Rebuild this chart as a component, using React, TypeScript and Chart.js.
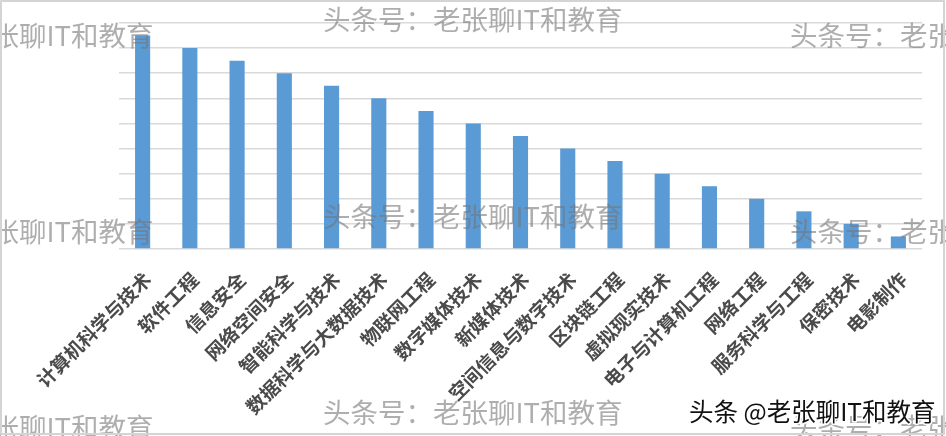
import React, { useEffect, useRef } from "react";
import { Chart, registerables } from "chart.js";

Chart.register(...registerables);

const categories = [
  "计算机科学与技术",
  "软件工程",
  "信息安全",
  "网络空间安全",
  "智能科学与技术",
  "数据科学与大数据技术",
  "物联网工程",
  "数字媒体技术",
  "新媒体技术",
  "空间信息与数字技术",
  "区块链工程",
  "虚拟现实技术",
  "电子与计算机工程",
  "网络工程",
  "服务科学与工程",
  "保密技术",
  "电影制作",
];
const values = [8.5, 8, 7.5, 7, 6.5, 6, 5.5, 5, 4.5, 4, 3.5, 3, 2.5, 2, 1.5, 1, 0.5];
const yMin = 0;
const yMax = 9;
const yStep = 1;
const watermarkText = "头条号：老张聊IT和教育";
const signatureText = "头条 @老张聊IT和教育";

const W = 946;
const H = 436;

const overlayPlugin = {
  id: "overlay",
  afterDraw(chart: any) {
    const ctx = chart.ctx as CanvasRenderingContext2D;
    ctx.save();
    ctx.font = '27.5px "Noto Sans CJK SC"';
    ctx.fillStyle = "rgba(115,115,115,0.58)";
    ctx.textBaseline = "middle";
    ctx.textAlign = "left";
    const cols = [
      { x: -146, ys: [36, 232, 428] },
      { x: 323, ys: [20, 217, 413] },
      { x: 790, ys: [36, 232, 428] },
    ];
    cols.forEach((c) => c.ys.forEach((y) => ctx.fillText(watermarkText, c.x, y)));

    ctx.font = '24.5px "Noto Sans CJK SC"';
    ctx.lineJoin = "round";
    ctx.lineWidth = 3;
    ctx.strokeStyle = "#ffffff";
    ctx.strokeText(signatureText, 689, 412);
    ctx.fillStyle = "#111111";
    ctx.fillText(signatureText, 689, 412);

    ctx.strokeStyle = "#d4d4d4";
    ctx.lineWidth = 2;
    ctx.strokeRect(1, 1, W - 3, H - 3);
    ctx.restore();
  },
};

export default function App() {
  const ref = useRef<HTMLCanvasElement | null>(null);
  useEffect(() => {
    document.body.style.margin = "0";
    const canvas = ref.current;
    if (!canvas) return;
    const chart = new Chart(canvas, {
      type: "bar",
      data: {
        labels: categories,
        datasets: [
          {
            data: values,
            backgroundColor: "#5b9bd5",
            barPercentage: 0.32,
            categoryPercentage: 1.0,
          },
        ],
      },
      options: {
        animation: false,
        responsive: false,
        devicePixelRatio: 1,
        layout: { padding: { top: 23, right: 24, left: 0, bottom: 0 } },
        plugins: {
          legend: { display: false },
          tooltip: { enabled: false },
        },
        scales: {
          x: {
            grid: { display: false },
            border: { display: false },
            ticks: {
              autoSkip: false,
              minRotation: 45,
              maxRotation: 45,
              padding: 11,
              labelOffset: 5,
              color: "#4a4a4a",
              font: { family: '"Noto Sans CJK SC"', size: 19, weight: "bold" },
            },
            afterFit: (s: any) => {
              s.height = 187;
            },
          },
          y: {
            min: yMin,
            max: yMax,
            ticks: { stepSize: yStep, display: false },
            grid: { color: "#d9d9d9", lineWidth: 1.5, drawTicks: false },
            border: { display: false },
            afterFit: (s: any) => {
              s.width = 119;
            },
          },
        },
      },
      plugins: [overlayPlugin],
    });
    return () => chart.destroy();
  }, []);
  return (
    <div style={{ width: W, height: H, background: "#fff" }}>
      <canvas ref={ref} width={W} height={H} style={{ display: "block" }} />
    </div>
  );
}
